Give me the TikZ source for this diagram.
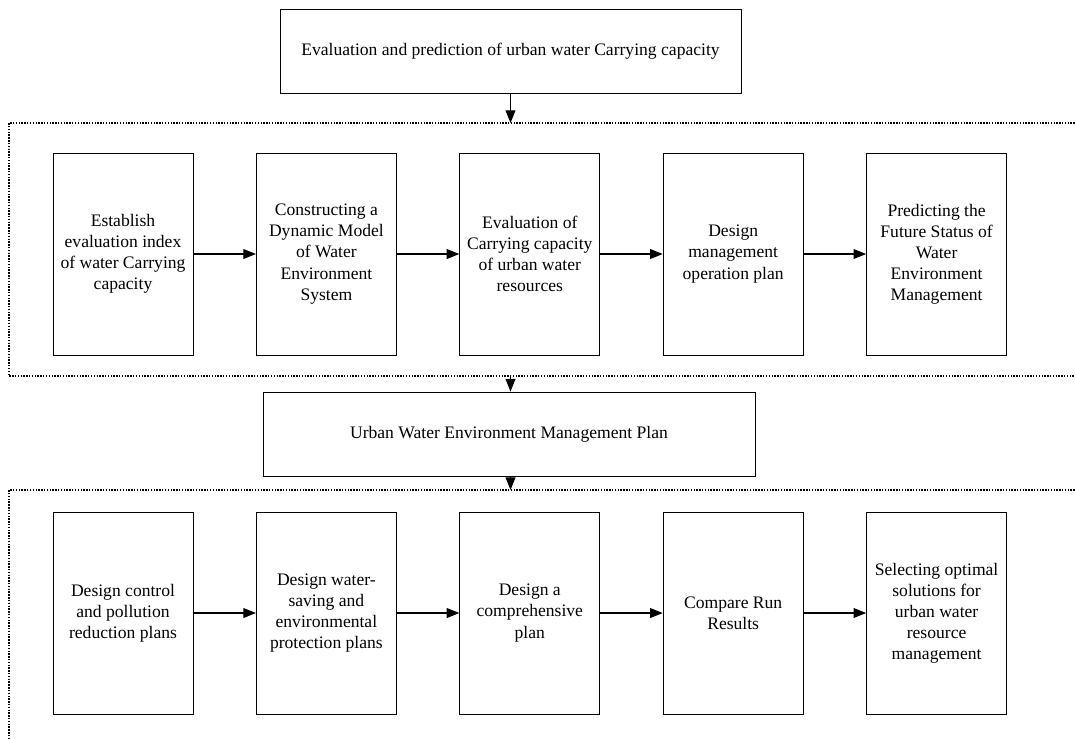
\documentclass[tikz,border=0pt]{standalone}
\usepackage{fontspec}
\setmainfont{Liberation Serif}
\usetikzlibrary{arrows.meta,positioning}

\begin{document}
\begin{tikzpicture}[x=0.025cm,y=-0.025cm,
  node distance=1.5625cm,
  box/.style={draw,line width=0.6pt,align=center,minimum width=3.5cm,minimum height=5.05cm,inner sep=2pt,font=\fontsize{12.5}{15}\selectfont},
  wide/.style={draw,line width=0.6pt,minimum height=2.1cm,font=\fontsize{12.5}{15}\selectfont},
  frame/.style={line width=0.8pt,dash pattern=on 1pt off 1pt},
  >={Triangle[length=9pt,width=7pt]}]

\useasboundingbox (0,0) rectangle (1075,738);
\clip (0,0) rectangle (1075,738);

% Top box
\node[wide,minimum width=11.525cm] (eval) at (510.5,51) {Evaluation and prediction of urban water Carrying capacity};

% First dotted frame
\draw[frame] (1100,123) -- (9,123) -- (9,376) -- (1100,376);
\coordinate (f1top) at (510.5,123);
\coordinate (f1bot) at (510.5,376);

% First row
\node[box] (a1) at (123,254) {Establish\\evaluation index\\of water Carrying\\capacity};
\node[box,right=of a1] (a2) {Constructing a\\Dynamic Model\\of Water\\Environment\\System};
\node[box,right=of a2] (a3) {Evaluation of\\Carrying capacity\\of urban water\\resources};
\node[box,right=of a3] (a4) {Design\\management\\operation plan};
\node[box,right=of a4] (a5) {Predicting the\\Future Status of\\Water\\Environment\\Management};

% Middle box
\node[wide,minimum width=12.3cm] (plan) at (509,434) {Urban Water Environment Management Plan};

% Second dotted frame
\draw[frame] (1100,490) -- (9,490) -- (9,760);
\coordinate (f2top) at (510.5,490);

% Second row
\node[box] (b1) at (123,613) {Design control\\and pollution\\reduction plans};
\node[box,right=of b1] (b2) {Design water-\\saving and\\environmental\\protection plans};
\node[box,right=of b2] (b3) {Design a\\comprehensive\\plan};
\node[box,right=of b3] (b4) {Compare Run\\Results};
\node[box,right=of b4] (b5) {Selecting optimal\\solutions for\\urban water\\resource\\management};

% Arrows
\draw[->,line width=0.8pt] (eval.south) -- (f1top);
\draw[->,line width=0.8pt] (f1bot) -- (f1bot |- plan.north);
\draw[->,line width=0.8pt] (plan.south -| f2top) -- (f2top);
\foreach \p/\q in {a1/a2,a2/a3,a3/a4,a4/a5,b1/b2,b2/b3,b3/b4,b4/b5}
  \draw[->,line width=0.8pt] (\p) -- (\q);

\end{tikzpicture}
\end{document}
